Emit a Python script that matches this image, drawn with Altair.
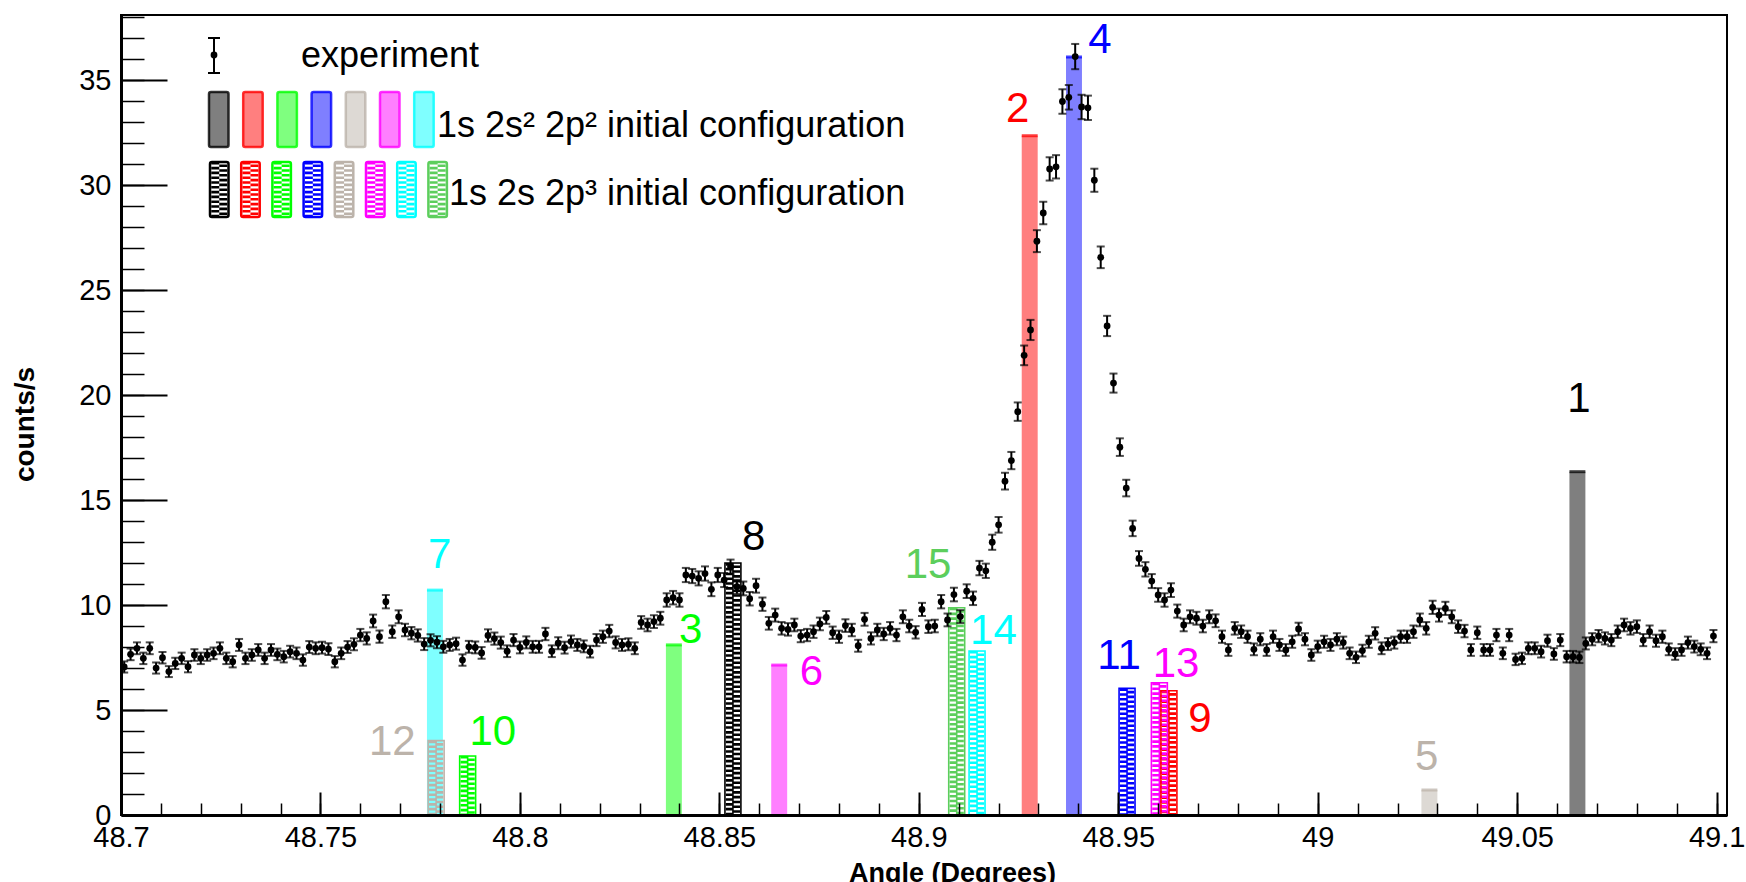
import altair as alt
import pandas as pd

# ---------------- data ----------------
# experimental spectrum (counts/s), one value per histogram bin, 48.7 .. 49.1 deg
COUNTS = [
    7.05, 7.65, 7.94, 7.46, 7.94, 7.00, 7.49, 6.83, 7.22, 7.46,
    7.06, 7.62, 7.46, 7.62, 7.70, 7.94, 7.46, 7.30, 8.10, 7.46,
    7.62, 7.86, 7.46, 7.86, 7.65, 7.54, 7.78, 7.70, 7.38, 8.00,
    7.94, 7.97, 7.90, 7.30, 7.70, 8.00, 8.13, 8.57, 8.41, 9.24,
    8.49, 10.16, 8.73, 9.44, 8.81, 8.66, 8.55, 8.14, 8.32, 8.23,
    8.01, 8.10, 8.16, 7.38, 8.01, 7.98, 7.72, 8.55, 8.40, 8.21,
    7.80, 8.33, 7.98, 8.22, 8.01, 8.01, 8.62, 7.80, 8.18, 7.97,
    8.26, 8.10, 8.03, 7.78, 8.33, 8.49, 8.76, 8.22, 8.10, 8.13,
    7.94, 9.17, 9.05, 9.21, 9.37, 10.24, 10.35, 10.24, 11.43, 11.38,
    11.27, 11.50, 10.75, 11.43, 11.19, 11.82, 10.87, 10.79, 10.30, 10.92,
    10.04, 9.13, 9.52, 8.89, 8.84, 9.05, 8.52, 8.57, 8.73, 9.10,
    9.41, 8.68, 8.49, 9.02, 8.81, 8.06, 9.32, 8.41, 8.81, 8.62,
    8.89, 8.57, 9.44, 9.00, 8.70, 9.79, 8.97, 9.00, 10.16, 9.29,
    10.50, 9.45, 10.66, 10.32, 11.76, 11.63, 12.99, 13.82, 15.90, 16.88,
    19.21, 21.89, 23.10, 27.33, 28.67, 30.77, 30.87, 33.98, 34.18, 36.12,
    33.72, 33.68, 30.23, 26.56, 23.29, 20.57, 17.52, 15.57, 13.65, 12.22,
    11.70, 11.14, 10.48, 10.24, 10.71, 9.71, 9.05, 9.44, 9.37, 9.00,
    9.44, 9.25, 8.49, 7.86, 8.89, 8.73, 8.49, 7.89, 8.37, 7.86,
    8.49, 8.10, 7.86, 8.25, 8.86, 8.37, 7.62, 8.02, 8.25, 8.10,
    8.37, 8.21, 7.70, 7.51, 7.83, 8.25, 8.65, 7.94, 8.14, 8.21,
    8.49, 8.49, 8.73, 9.29, 8.89, 9.89, 9.52, 9.84, 9.44, 8.97,
    8.76, 7.86, 8.68, 7.86, 7.86, 8.57, 7.70, 8.57, 7.41, 7.46,
    7.94, 7.94, 7.78, 8.30, 7.67, 8.33, 7.54, 7.54, 7.51, 8.17,
    8.37, 8.52, 8.41, 8.33, 8.73, 9.05, 8.89, 8.97, 8.33, 8.73,
    8.30, 8.49, 7.89, 7.67, 7.86, 8.21, 8.02, 7.89, 7.70, 8.52,
]
BIN_LO, BIN_HI = 48.7, 49.1          # histogram range (bin centres follow from it)
ERR_SCALE = 0.10                     # Poisson error: err = ERR_SCALE * sqrt(counts)

# theoretical lines, 1s 2s^2 2p^2 initial configuration (solid bars)
SOLID_IDS = ["1", "2", "3", "4", "5", "6", "7"]
SOLID_ANGLE = [49.0651, 48.9278, 48.8386, 48.9389, 49.0280, 48.8650, 48.7787]
SOLID_HEIGHT = [16.35, 32.35, 8.10, 36.10, 1.19, 7.14, 10.71]
SOLID_COLORS = ["#000000", "#ff0000", "#00ff00", "#0000ff", "#bcb3aa", "#ff00ff", "#00ffff"]

# theoretical lines, 1s 2s 2p^3 initial configuration (hatched bars)
HATCH_IDS = ["8", "9", "10", "11", "12", "13", "14", "15"]
HATCH_ANGLE = [48.8534, 48.9627, 48.7869, 48.9522, 48.7790, 48.9603, 48.9146, 48.9095]
HATCH_HEIGHT = [12.00, 5.92, 2.81, 6.03, 3.54, 6.30, 7.81, 9.87]
HATCH_COLORS = ["#000000", "#ff0000", "#00ff00", "#0000ff", "#bcb3aa", "#ff00ff", "#00ffff", "#5cce5c"]

# line number labels (anchor = text baseline centre, in data units)
LABEL_TEXT = ["1", "2", "3", "4", "5", "6", "7", "8", "9", "10", "11", "12", "13", "14", "15"]
LABEL_ANGLE = [49.0655, 48.9248, 48.8428, 48.9454, 49.0273, 48.8731, 48.7799, 48.8586,
               48.9705, 48.7932, 48.9502, 48.7680, 48.9645, 48.9187, 48.9023]
LABEL_VALUE = [19.19, 33.00, 8.19, 36.29, 2.14, 6.19, 11.76, 12.62,
               3.95, 3.33, 6.95, 2.86, 6.57, 8.14, 11.29]
LABEL_COLORS = SOLID_COLORS + HATCH_COLORS

X_MAJOR = [48.7, 48.75, 48.8, 48.85, 48.9, 48.95, 49.0, 49.05, 49.1]
X_MINOR = [round(48.7 + 0.01 * i, 2) for i in range(41)]
Y_MAJOR = [0, 5, 10, 15, 20, 25, 30, 35]
Y_MINOR = list(range(0, 39))

LEGEND_EXP = "experiment"
LEGEND_SOLID = "1s 2s\u00b2 2p\u00b2 initial configuration"
LEGEND_HATCH = "1s 2s 2p\u00b3 initial configuration"

# ---------------- layout / style ----------------
W, H = 1606, 800
PAD = {"left": 121, "top": 15, "right": 19, "bottom": 67}
FONT = "Liberation Sans"
BAR_HALF = 0.002
XS = alt.Scale(domain=[48.7, 49.1026], nice=False, zero=False)
YS = alt.Scale(domain=[0, 38.1], nice=False, zero=False)

n = len(COUNTS)
angles = [BIN_LO + (i + 0.5) * (BIN_HI - BIN_LO) / n for i in range(n)]
exp_df = pd.DataFrame({"angle": angles, "counts": COUNTS})
exp = alt.Chart(exp_df).transform_calculate(
    lo=f"datum.counts - {ERR_SCALE} * sqrt(datum.counts)",
    hi=f"datum.counts + {ERR_SCALE} * sqrt(datum.counts)",
)

ax_bottom = alt.Axis(
    orient="bottom", values=X_MAJOR, format="~g", ticks=False, grid=False,
    domain=True, domainColor="black", domainWidth=3, zindex=1,
    labelFont=FONT, labelFontSize=29, labelColor="black", labelPadding=8,
    labelFlush=False, labelOverlap=False,
    title="Angle (Degrees)", titleFont=FONT, titleFontSize=27, titleFontWeight="bold",
    titleColor="black", titleX=831, titleY=66, titleAlign="center", titleBaseline="alphabetic",
)
ax_left = alt.Axis(
    orient="left", values=Y_MAJOR, ticks=False, grid=False,
    domain=True, domainColor="black", domainWidth=3, zindex=1,
    labelFont=FONT, labelFontSize=29, labelColor="black", labelPadding=10,
    labelFlush=False, labelOverlap=False,
    title="counts/s", titleFont=FONT, titleFontSize=28, titleFontWeight="bold",
    titleColor="black", titleX=-96, titleY=409, titleAngle=270,
    titleAlign="center", titleBaseline="middle",
)


def tick_axis(orient, values, size, width, offset):
    return alt.Axis(orient=orient, values=values, offset=offset, labels=False, domain=False,
                    grid=False, ticks=True, tickSize=size, tickWidth=width, tickColor="black",
                    title=None, zindex=1)


ax_x_major = tick_axis("top", X_MAJOR, 23, 2, -H)
ax_x_minor = tick_axis("top", X_MINOR, 12, 1.5, -H)
ax_y_major = tick_axis("right", Y_MAJOR, 46, 2, -W)
ax_y_minor = tick_axis("right", Y_MINOR, 23, 1.5, -W)

# ---------------- theoretical bars ----------------
solid_df = pd.DataFrame({"id": SOLID_IDS, "angle": SOLID_ANGLE, "h": SOLID_HEIGHT, "color": SOLID_COLORS})
hatch_df = pd.DataFrame({"id": HATCH_IDS, "angle": HATCH_ANGLE, "h": HATCH_HEIGHT, "color": HATCH_COLORS})


def bar_base(df):
    return alt.Chart(df).transform_calculate(
        x0=f"datum.angle - {BAR_HALF}", x1=f"datum.angle + {BAR_HALF}", base="0")


solid = bar_base(solid_df)
solid_rect = solid.mark_rect(opacity=0.5).encode(
    x=alt.X("x0:Q", scale=XS, axis=None), x2="x1:Q",
    y=alt.Y("h:Q", scale=YS, axis=None), y2="base:Q",
    color=alt.Color("color:N", scale=None),
)
solid_top = solid.mark_rule(strokeWidth=3, opacity=0.75).encode(
    x=alt.X("x0:Q", scale=XS, axis=None), x2="x1:Q",
    y=alt.Y("h:Q", scale=YS, axis=None),
    color=alt.Color("color:N", scale=None),
)

hatch = bar_base(hatch_df)


def hatch_column(offset, dash_offset):
    return hatch.mark_rule(strokeWidth=7, strokeDash=[2.6, 2.2], strokeDashOffset=dash_offset,
                           xOffset=offset).encode(
        x=alt.X("angle:Q", scale=XS, axis=None),
        y=alt.Y("h:Q", scale=YS, axis=None), y2="base:Q",
        color=alt.Color("color:N", scale=None),
    )


hatch_left = hatch_column(-3.6, 0)
hatch_right = hatch_column(3.6, 2.4)
hatch_spine = hatch.mark_rule(strokeWidth=1.6).encode(
    x=alt.X("angle:Q", scale=XS, axis=None),
    y=alt.Y("h:Q", scale=YS, axis=None), y2="base:Q",
    color=alt.Color("color:N", scale=None),
)
hatch_outline = hatch.mark_rect(fillOpacity=0, strokeWidth=1.6).encode(
    x=alt.X("x0:Q", scale=XS, axis=None), x2="x1:Q",
    y=alt.Y("h:Q", scale=YS, axis=None), y2="base:Q",
    stroke=alt.Stroke("color:N", scale=None),
)

lab_df = pd.DataFrame({"text": LABEL_TEXT, "angle": LABEL_ANGLE, "val": LABEL_VALUE, "color": LABEL_COLORS})
labels = alt.Chart(lab_df).mark_text(font=FONT, fontSize=42, align="center", baseline="alphabetic").encode(
    x=alt.X("angle:Q", scale=XS, axis=None),
    y=alt.Y("val:Q", scale=YS, axis=None),
    text="text:N",
    color=alt.Color("color:N", scale=None),
)

# ---------------- experiment ----------------
err_rule = exp.mark_rule(color="black", strokeWidth=2).encode(
    x=alt.X("angle:Q", scale=XS, axis=ax_x_major),
    y=alt.Y("lo:Q", scale=YS, axis=ax_y_major), y2="hi:Q",
)
cap_lo = exp.mark_tick(orient="horizontal", size=8, thickness=2, color="black").encode(
    x=alt.X("angle:Q", scale=XS, axis=ax_x_minor),
    y=alt.Y("lo:Q", scale=YS, axis=ax_y_minor),
)
cap_hi = exp.mark_tick(orient="horizontal", size=8, thickness=2, color="black").encode(
    x=alt.X("angle:Q", scale=XS, axis=None),
    y=alt.Y("hi:Q", scale=YS, axis=None),
)
dots = exp.mark_circle(size=46, color="black", opacity=1).encode(
    x=alt.X("angle:Q", scale=XS, axis=ax_bottom),
    y=alt.Y("counts:Q", scale=YS, axis=ax_left),
)

# ---------------- legend (pixel layout inside the plot) ----------------
one = pd.DataFrame({"a": [0]})
leg_err = alt.Chart(one).mark_rule(color="black", strokeWidth=2).encode(
    x=alt.value(93), y=alt.value(23), y2=alt.value(58))
leg_cap1 = alt.Chart(one).mark_rule(color="black", strokeWidth=2).encode(
    x=alt.value(87), x2=alt.value(99), y=alt.value(23))
leg_cap2 = alt.Chart(one).mark_rule(color="black", strokeWidth=2).encode(
    x=alt.value(87), x2=alt.value(99), y=alt.value(58))
leg_dot = alt.Chart(one).mark_circle(color="black", size=46, opacity=1).encode(
    x=alt.value(93), y=alt.value(40))


def leg_text(txt, x, y):
    return alt.Chart(one).mark_text(font=FONT, fontSize=36, align="left", baseline="alphabetic",
                                    color="black").encode(
        x=alt.value(x), y=alt.value(y), text=alt.value(txt))


leg_solid_df = pd.DataFrame({"k": list(range(len(SOLID_COLORS))), "color": SOLID_COLORS})
leg_solid = alt.Chart(leg_solid_df).transform_calculate(
    xl="88 + 34.2 * datum.k", xr="88 + 34.2 * datum.k + 19.5", yt="77", yb="132"
).mark_rect(fillOpacity=0.5, strokeWidth=2.5, strokeOpacity=0.8, cornerRadius=2).encode(
    x=alt.X("xl:Q", scale=None, axis=None), x2="xr:Q",
    y=alt.Y("yt:Q", scale=None, axis=None), y2="yb:Q",
    fill=alt.Fill("color:N", scale=None), stroke=alt.Stroke("color:N", scale=None),
)

leg_hatch_df = pd.DataFrame({"k": list(range(len(HATCH_COLORS))), "color": HATCH_COLORS})
leg_hatch = alt.Chart(leg_hatch_df).transform_calculate(
    xl="89 + 31.2 * datum.k", xr="89 + 31.2 * datum.k + 18.5", xc="89 + 31.2 * datum.k + 9.25",
    yt="147", yb="202",
)
leg_hatch_out = leg_hatch.mark_rect(fillOpacity=0, strokeWidth=2.5, cornerRadius=2).encode(
    x=alt.X("xl:Q", scale=None, axis=None), x2="xr:Q",
    y=alt.Y("yt:Q", scale=None, axis=None), y2="yb:Q",
    stroke=alt.Stroke("color:N", scale=None),
)
leg_hatch_l = leg_hatch.mark_rule(strokeWidth=8, strokeDash=[2.6, 2.2], xOffset=-4).encode(
    x=alt.X("xc:Q", scale=None, axis=None),
    y=alt.Y("yt:Q", scale=None, axis=None), y2="yb:Q",
    color=alt.Color("color:N", scale=None),
)
leg_hatch_r = leg_hatch.mark_rule(strokeWidth=8, strokeDash=[2.6, 2.2], strokeDashOffset=2.4,
                                  xOffset=4).encode(
    x=alt.X("xc:Q", scale=None, axis=None),
    y=alt.Y("yt:Q", scale=None, axis=None), y2="yb:Q",
    color=alt.Color("color:N", scale=None),
)

chart = alt.layer(
    solid_rect, solid_top,
    hatch_left, hatch_right, hatch_spine, hatch_outline,
    labels,
    err_rule, cap_lo, cap_hi, dots,
    leg_solid, leg_hatch_l, leg_hatch_r, leg_hatch_out,
    leg_err, leg_cap1, leg_cap2, leg_dot,
    leg_text(LEGEND_EXP, 180, 52),
    leg_text(LEGEND_SOLID, 316, 122),
    leg_text(LEGEND_HATCH, 328, 190),
).resolve_axis(
    x="independent", y="independent"
).properties(
    width=W, height=H, padding=PAD, autosize=alt.AutoSizeParams(type="none"),
    background="white",
).configure_view(
    stroke="black", strokeWidth=2
)

chart.save("out.html", embed_options={"renderer": "svg", "actions": False})
